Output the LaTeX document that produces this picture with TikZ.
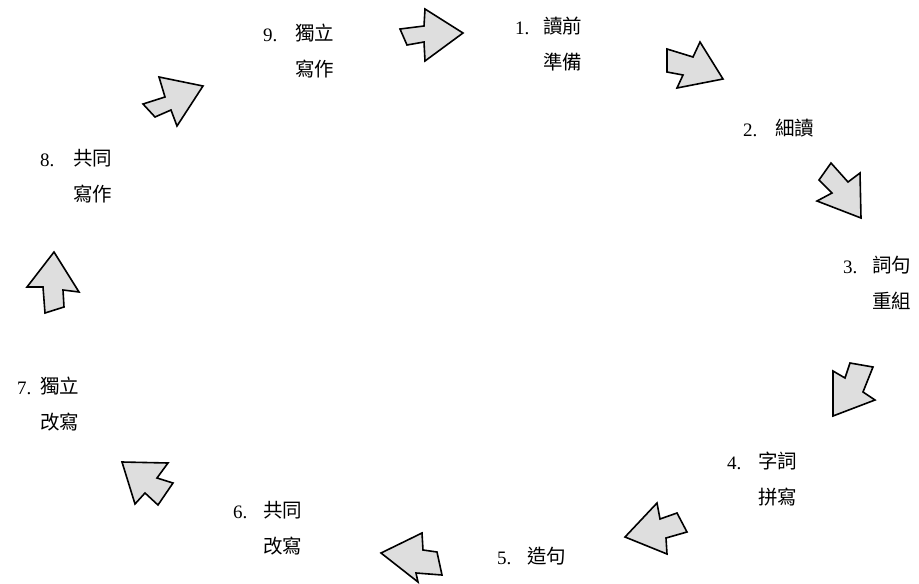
\documentclass[tikz,border=0pt]{standalone}
\usepackage{fontspec}
\setmainfont{Liberation Serif}
\newfontfamily\cjk{Noto Sans CJK TC}
\begin{document}
\begin{tikzpicture}[x=1pt,y=-1pt,
  blk/.style={draw=black,line width=1.6pt,fill=black!13,line join=miter},
  num/.style={font=\fontsize{19}{22}\selectfont,anchor=west,inner sep=0pt},
  lab/.style={font=\cjk\fontsize{19.5}{36}\selectfont,align=left,anchor=north west,inner sep=0pt}]
\useasboundingbox (0,0) rectangle (919,584);
% labels
\node[num] (n1) at (515,28) {1.};
\node[lab] (t1) at (543,17) {讀前\\準備};
\node[num] (n2) at (743,130) {2.};
\node[lab] (t2) at (775,119) {細讀};
\node[num] (n3) at (843,267) {3.};
\node[lab] (t3) at (872,256) {詞句\\重組};
\node[num] (n4) at (727,463) {4.};
\node[lab] (t4) at (758,452) {字詞\\拼寫};
\node[num] (n5) at (497,558) {5.};
\node[lab] (t5) at (527,547) {造句};
\node[num] (n6) at (233,512) {6.};
\node[lab] (t6) at (263,501) {共同\\改寫};
\node[num] (n7) at (17,388) {7.};
\node[lab] (t7) at (40,377) {獨立\\改寫};
\node[num] (n8) at (40,160) {8.};
\node[lab] (t8) at (73,149) {共同\\寫作};
\node[num] (n9) at (263,35) {9.};
\node[lab] (t9) at (295,24) {獨立\\寫作};
% block arrows
\draw[blk] (463,33) -- (425,9) -- (424,26) -- (400,29) -- (407,45) -- (424,42) -- (425,61) -- cycle;
\draw[blk] (723,79) -- (700,42) -- (693,57) -- (667,49) -- (667,72) -- (683,75) -- (677,88) -- cycle;
\draw[blk] (861,218) -- (860,173) -- (848,182) -- (831,163) -- (819,180) -- (832,193) -- (817,201) -- cycle;
\draw[blk] (833,416) -- (833,371) -- (845,378) -- (850,363) -- (873,367) -- (863,392) -- (875,400) -- cycle;
\draw[blk] (625,537) -- (657,503) -- (660,519) -- (677,513) -- (687,532) -- (666,538) -- (667,554) -- cycle;
\draw[blk] (381,553) -- (422,533) -- (423,550) -- (437,552) -- (442,575) -- (416,573) -- (418,582) -- cycle;
\draw[blk] (122,462) -- (168,463) -- (157,478) -- (173,483) -- (158,505) -- (145,493) -- (135,504) -- cycle;
\draw[blk] (54,252) -- (79,292) -- (63,290) -- (64,307) -- (45,313) -- (43,287) -- (27,287) -- cycle;
\draw[blk] (203,86) -- (159,77) -- (165,97) -- (143,104) -- (155,117) -- (171,110) -- (177,126) -- cycle;
\end{tikzpicture}
\end{document}
